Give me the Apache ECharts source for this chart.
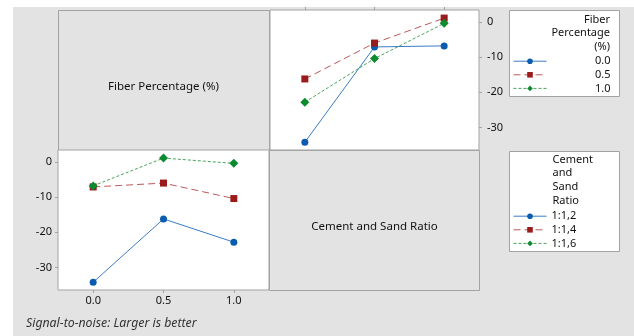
<!DOCTYPE html>
<html>
<head>
<meta charset="utf-8">
<script src="https://cdn.jsdelivr.net/npm/echarts@6/dist/echarts.min.js"></script>
<style>
  html, body { margin: 0; padding: 0; background: #ffffff; }
  #chart { width: 634px; height: 336px; }
</style>
</head>
<body>
<div id="chart"></div>
<script>
// Factor levels
const fiberLevels = ['0.0', '0.5', '1.0'];
const cementRatios = ['1:1,2', '1:1,4', '1:1,6'];

// Mean S/N ratio (larger is better) for each fiber level, across the cement ratios
const snFiber00 = [-34.2, -7.1, -6.8];
const snFiber05 = [-16.2, -6.0, 1.1];
const snFiber10 = [-22.8, -10.4, -0.4];

// Y-axis tick labels
const snTicks = [-30, -20, -10, 0];

const snByFiber = [snFiber00, snFiber05, snFiber10];
// Same table read the other way: per cement ratio, across fiber levels
const snByCement = cementRatios.map((_, c) => snByFiber.map(row => row[c]));

const FONT = '"Noto Sans", "Open Sans", sans-serif';
const TXT = '#111111';
const BORDER = '#a3a3a3';

const styles = [
  { symbol: 'circle', size: 7, mark: '#0a5cb0', line: '#3b7cc6', type: 'solid' },
  { symbol: 'rect', size: 7, mark: '#9a1b1b', line: '#bd5a5a', type: [7, 4] },
  { symbol: 'diamond', size: 9, mark: '#0c8a2e', line: '#47a35c', type: [3, 2] }
];

function lineSeries(name, data, gridIdx, st) {
  return {
    type: 'line', name: name, data: data,
    xAxisIndex: gridIdx, yAxisIndex: gridIdx,
    symbol: st.symbol, symbolSize: st.size,
    itemStyle: { color: st.mark },
    lineStyle: { color: st.line, width: 1, type: st.type },
    emphasis: { disabled: true },
    animation: false, z: 3
  };
}

const series = [];
fiberLevels.forEach((f, i) => series.push(lineSeries(f, snByFiber[i], 0, styles[i])));
cementRatios.forEach((c, i) => series.push(lineSeries(c, snByCement[i], 1, styles[i])));

const yCommon = {
  type: 'value', min: -36.4, max: 3.4,
  splitLine: { show: false },
  axisLine: { show: false, onZero: false },
  axisTick: { show: true, length: 3, lineStyle: { color: BORDER }, customValues: snTicks },
  axisLabel: { fontFamily: FONT, fontSize: 11, color: TXT, customValues: snTicks }
};

function legendFor(names, top, textW, align) {
  return {
    data: names, orient: 'vertical', left: 513, top: top,
    padding: 0, itemWidth: 33, itemHeight: 7, itemGap: 2.6,
    selectedMode: false,
    lineStyle: { width: 1 },
    textStyle: {
      fontFamily: FONT, fontSize: 11, color: TXT,
      rich: { t: { width: textW, align: align, fontFamily: FONT, fontSize: 11, color: TXT } }
    },
    formatter: '{t|{name}}'
  };
}

const option = {
  backgroundColor: '#ffffff',
  animation: false,
  grid: [
    { left: 270, top: 10, width: 209, height: 140, show: true, backgroundColor: '#ffffff', borderColor: BORDER, borderWidth: 1 },
    { left: 58, top: 150, width: 211, height: 140, show: true, backgroundColor: '#ffffff', borderColor: BORDER, borderWidth: 1 }
  ],
  xAxis: [
    {
      gridIndex: 0, type: 'category', data: cementRatios, position: 'top', boundaryGap: true,
      axisLine: { show: false, onZero: false },
      axisTick: { show: true, alignWithLabel: true, length: 3, lineStyle: { color: BORDER } },
      axisLabel: { show: false }
    },
    {
      gridIndex: 1, type: 'category', data: fiberLevels, position: 'bottom', boundaryGap: true,
      axisLine: { show: false, onZero: false },
      axisTick: { show: true, alignWithLabel: true, length: 3, lineStyle: { color: BORDER } },
      axisLabel: { fontFamily: FONT, fontSize: 11, color: TXT, margin: 5 }
    }
  ],
  yAxis: [
    Object.assign({}, yCommon, { gridIndex: 0, position: 'right',
      axisLabel: Object.assign({}, yCommon.axisLabel, { margin: 8 }) }),
    Object.assign({}, yCommon, { gridIndex: 1, position: 'left',
      axisLabel: Object.assign({}, yCommon.axisLabel, { margin: 6 }) })
  ],
  legend: [
    legendFor(fiberLevels, 55.7, 59, 'right'),
    legendFor(cementRatios, 210.7, 60, 'left')
  ],
  series: series,
  graphic: [
    // grey canvas of the matrix plot
    { type: 'rect', z: -10, silent: true, shape: { x: 13, y: 7, width: 621, height: 329 }, style: { fill: '#e3e3e3' } },
    // label panels on the diagonal
    { type: 'rect', z: -5, silent: true, shape: { x: 58.5, y: 10.5, width: 211, height: 140 }, style: { fill: 'none', stroke: BORDER, lineWidth: 1 } },
    { type: 'rect', z: -5, silent: true, shape: { x: 269.5, y: 150.5, width: 210, height: 140 }, style: { fill: 'none', stroke: BORDER, lineWidth: 1 } },
    { type: 'text', silent: true, style: { x: 163.5, y: 87, text: 'Fiber Percentage (%)', textAlign: 'center', textVerticalAlign: 'middle', font: '11.5px ' + FONT, fill: TXT } },
    { type: 'text', silent: true, style: { x: 374.5, y: 227, text: 'Cement and Sand Ratio', textAlign: 'center', textVerticalAlign: 'middle', font: '11.5px ' + FONT, fill: TXT } },
    // legend boxes and their headings
    { type: 'rect', z: -5, silent: true, shape: { x: 509.5, y: 10.5, width: 110, height: 86 }, style: { fill: '#ffffff', stroke: BORDER, lineWidth: 1 } },
    { type: 'rect', z: -5, silent: true, shape: { x: 509.5, y: 151.5, width: 110, height: 100 }, style: { fill: '#ffffff', stroke: BORDER, lineWidth: 1 } },
    { type: 'text', silent: true, style: { x: 610, y: 12.5, text: 'Fiber\nPercentage\n(%)', textAlign: 'right', textVerticalAlign: 'top', font: '11px ' + FONT, fill: TXT, lineHeight: 13.9 } },
    { type: 'text', silent: true, style: { x: 552.5, y: 152.5, text: 'Cement\nand\nSand\nRatio', textAlign: 'left', textVerticalAlign: 'top', font: '11px ' + FONT, fill: TXT, lineHeight: 13.9 } },
    // footnote
    { type: 'text', silent: true, style: { x: 26, y: 323, text: 'Signal-to-noise: Larger is better', textAlign: 'left', textVerticalAlign: 'middle', font: 'italic 12.3px ' + FONT, fill: '#333333' } }
  ]
};

const chart = echarts.init(document.getElementById('chart'), null, { renderer: 'canvas' });
chart.setOption(option);
</script>
</body>
</html>
